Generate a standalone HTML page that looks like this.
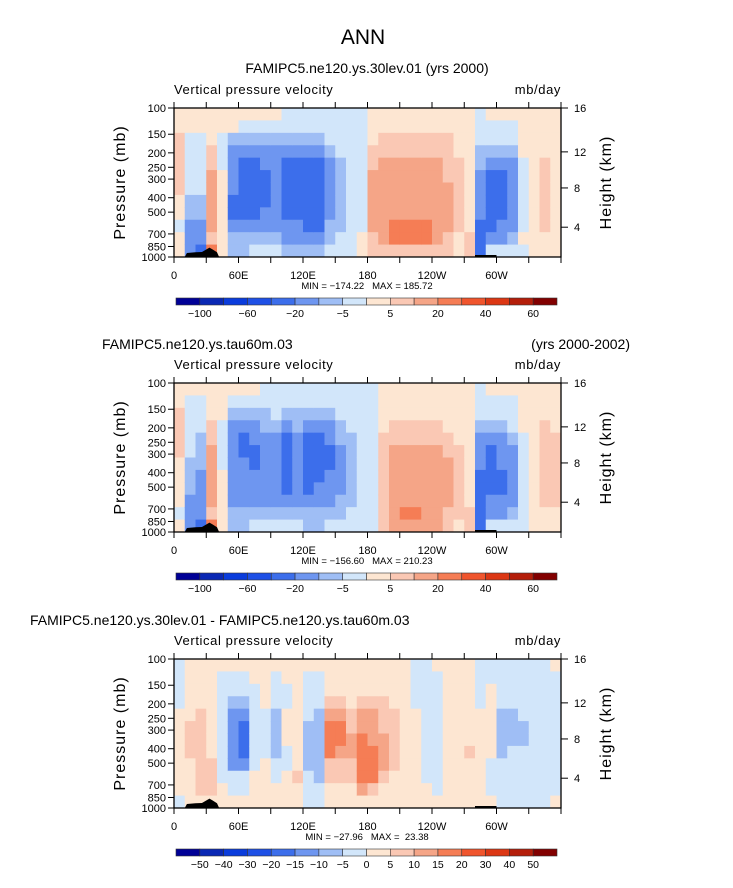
<!DOCTYPE html>
<html><head><meta charset="utf-8"><style>
html,body{margin:0;padding:0;background:#fff;}
svg{display:block;font-family:"Liberation Sans",sans-serif;}
</style></head><body>
<svg id="fig" width="733" height="888" viewBox="0 0 733 888" xmlns="http://www.w3.org/2000/svg">
<text x="363" y="44" font-size="21" text-anchor="middle">ANN</text>
</svg>
<script>
// ---- data ----
const colors=["#000096","#0a28b4","#0a3cdc","#1e50e6","#3c6eeb","#6e96f0","#9fbef5","#d2e6fa","#fde6d2","#fac8b4","#f5a587","#f57d55","#f0552d","#dc3714","#b41e0a","#820000"];
const pressureTicks=[100,150,200,250,300,400,500,700,850,1000];
const heightTicks=["16","12","8","4"];
const heightPressure=[100,197,344,631];
const lonLabels=["0","60E","120E","180","120W","60W"];
const cbLabels1=["-100","-60","-20","-5","5","20","40","60"];
const cbLabels3=["-50","-40","-30","-20","-15","-10","-5","0","5","10","15","20","30","40","50"];
const field1=["889999988788","887777766555","887777766554","88899aaaaa9b","887778888888","886555544566","876544444566","876544444567","876554445567","876555555567","776544444556","776544444556","776544444456","776544444456","777655555667","777766666677","777777777777","777777777788","88899aaaaa99","8899aaaaaaa9","8899aaaaabb9","8899aaaaabb9","8899aaaaabb9","8899aaaaabb9","8899aaaaaaa9","889999aaaa99","888899999988","888888888899","777665555444","877654444457","877654444557","877655555567","888877777787","888888888888","888899999988","888888888888"];
const field2=["889999888878","877777666555","877766655554","88899aaaaa9b","888777788888","876555555566","876544555566","876554455567","776655555567","777655555567","776544444567","776655555567","776544444566","776544445566","776554455567","777665555667","777766666677","777777777777","777777777777","888899999999","88899aaaaaaa","88899aaaaaba","88899aaaaaba","88899aaaaaaa","88899aaaaaaa","888899aaaa99","888889999998","888888888899","777655544444","877654444557","877655544557","877765555567","888877777777","888888888888","888999999988","888899999988"];
const field3=["777788888887","888889998888","888899999998","888888889998","877777777788","877655555778","877654445778","887777777888","888877778888","877766667788","887788877888","888888888988","877776666777","877766666677","8889abbb9988","8889abba9988","888899aa9988","8889aabbbba8","8889aaabbb98","888999aaa988","888899999888","888888888888","777788888888","777777777788","877777777778","888888888888","888888888888","888888898888","777788888888","778888887778","777766667777","777766677777","777776677777","777777777777","777777777777","877777777778"];
const topoLon=[10,12,20,26,29,33,36,40,42];
const topoP=[1000,940,930,925,900,865,890,930,1000];
const minmax1="MIN = \u2212174.22   MAX = 185.72";
const minmax2="MIN = \u2212156.60   MAX = 210.23";
const minmax3="MIN = \u221227.96   MAX =  23.38";
// ---- layout ----
const NS="http://www.w3.org/2000/svg";
const svg=document.getElementById('fig');
const X0=174,X1=561;
function el(tag,attrs,parent){const e=document.createElementNS(NS,tag);for(const k in attrs)e.setAttribute(k,attrs[k]);(parent||svg).appendChild(e);return e;}
function txt(x,y,s,size,anchor,parent){const t=el('text',{x:x,y:y,'font-size':size,'text-anchor':anchor||'start'},parent);t.textContent=s;return t;}
function panel(top,field,minmax,cbLabels,allBounds,name){
  const H=149;
  const xS=lon=>X0+(lon/360)*(X1-X0);
  const yS=p=>top+Math.log10(p/100)*H;
  const g=el('g',{});
  
  
  const nc=field.length;
  for(let c=0;c<nc;c++){
    const col=field[c];const nr=col.length;
    for(let r=0;r<nr;r++){
      const idx=parseInt(col[r],16);
      const p0=100*Math.pow(10,r/nr),p1=100*Math.pow(10,(r+1)/nr);
      const rc=el('rect',{x:xS(c*360/nc),y:yS(p0),width:xS((c+1)*360/nc)-xS(c*360/nc)+0.5,height:yS(p1)-yS(p0)+0.5,fill:colors[idx]},g);
      
      
    }
  }
  let pts=topoLon.map((l,i)=>xS(l)+','+yS(topoP[i])).join(' ');
  const tp=el('polygon',{points:pts,fill:'#000'},g);
  
  
  el('rect',{x:xS(280),y:yS(1000)-2,width:xS(300)-xS(280),height:2,fill:'#000'},g);
  el('rect',{x:X0,y:top,width:X1-X0,height:H,fill:'none',stroke:'#000','stroke-width':1.3},g);
  for(let l=0;l<=360;l+=30){
    el('line',{x1:xS(l),x2:xS(l),y1:top+H,y2:top+H+6,stroke:'#000'},g);
    el('line',{x1:xS(l),x2:xS(l),y1:top,y2:top-6,stroke:'#000'},g);
  }
  lonLabels.forEach((s,i)=>{const t=txt(xS(i*60),top+H+22,s,11,'middle',g);});
  pressureTicks.forEach(p=>{
    el('line',{x1:X0,x2:X0-6,y1:yS(p),y2:yS(p),stroke:'#000'},g);
    const t=txt(X0-8,yS(p)+4,String(p),11,'end',g);
    
  });
  heightTicks.forEach((h,i)=>{
    const y=yS(heightPressure[i]);
    el('line',{x1:X1,x2:X1+7,y1:y,y2:y,stroke:'#000'},g);
    txt(X1+13,y+4,h,11,'start',g);
  });
  const yl=txt(0,0,'Pressure (mb)',16,'middle',g);
  yl.setAttribute('transform',`translate(125,${top+H/2}) rotate(-90)`);
  yl.setAttribute('letter-spacing','1');
  
  const hl=txt(0,0,'Height (km)',16,'middle',g);
  hl.setAttribute('transform',`translate(611,${top+H/2}) rotate(-90)`);
  hl.setAttribute('letter-spacing','1');
  
  const vt=txt(X0,top-14,'Vertical pressure velocity',13,'start',g);
  vt.setAttribute('letter-spacing','0.6');
  
  const ut=txt(X1,top-14,'mb/day',13,'end',g);
  ut.setAttribute('letter-spacing','0.6');
  
  const mm=txt(367,top+H+32,minmax,9.5,'middle',g);
  mm.setAttribute('xml:space','preserve');
  mm.setAttribute('style','white-space:pre');
  
  const cy=top+H+41,cx0=176,cx1=557,bw=(cx1-cx0)/16;
  for(let i=0;i<16;i++){
    const r=el('rect',{x:cx0+i*bw,y:cy,width:bw,height:7,fill:colors[i],stroke:'#333','stroke-width':0.6},g);
    
    
  }
  cbLabels.forEach((s,i)=>{
    const b=allBounds?(i+1):(2*i+1);
    const t=txt(cx0+b*bw,cy+19,s.replace('-','\u2212'),10.5,'middle',g);
    
  });
}
function title(x,y,s,anchor,name){const t=txt(x,y,s,14,anchor);}
title(367,73,'FAMIPC5.ne120.ys.30lev.01 (yrs 2000)','middle','panel1-title');
panel(108,field1,minmax1,cbLabels1,false,'panel-1');
title(102,349,'FAMIPC5.ne120.ys.tau60m.03','start','panel2-title');
title(630,349,'(yrs 2000-2002)','end','panel2-years');
panel(383,field2,minmax2,cbLabels1,false,'panel-2');
title(30,625,'FAMIPC5.ne120.ys.30lev.01 - FAMIPC5.ne120.ys.tau60m.03','start','panel3-title');
panel(659,field3,minmax3,cbLabels3,true,'panel-3');
</script>
</body></html>
